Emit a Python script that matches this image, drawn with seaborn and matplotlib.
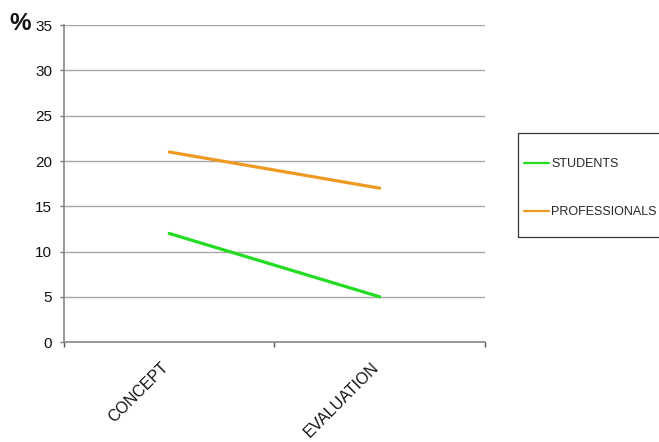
import matplotlib
matplotlib.use("Agg")
import matplotlib.pyplot as plt
from matplotlib.patches import Rectangle
import seaborn as sns
import pandas as pd

stages = ["CONCEPT", "EVALUATION"]
students = [12, 5]
professionals = [21, 17]
series_names = ["STUDENTS", "PROFESSIONALS"]
y_ticks = [0, 5, 10, 15, 20, 25, 30, 35]

green = "#22dd22"
orange = "#ee9a22"

df = pd.DataFrame({
    "stage": list(range(len(stages))) * 2,
    "value": students + professionals,
    "group": [series_names[0]] * len(stages) + [series_names[1]] * len(stages),
})

sns.set_theme(style="white")
plt.rcParams["font.family"] = ["Liberation Sans", "DejaVu Sans"]

fig = plt.figure(figsize=(6.59, 4.42), dpi=100)
ax = fig.add_axes([0.097, 0.226, 0.639, 0.717])

sns.lineplot(data=df, x="stage", y="value", hue="group",
             palette={series_names[0]: green, series_names[1]: orange},
             linewidth=2.3, ax=ax, legend=False)

ax.set_xlim(-0.5, len(stages) - 0.5)
ax.set_ylim(0, 35)
ax.set_yticks(y_ticks)
ax.set_yticklabels([str(v) for v in y_ticks], fontsize=11, color="#111111")
ax.yaxis.grid(True, color="#a8a8a8", linewidth=1)
ax.set_axisbelow(True)

ax.set_xticks(range(len(stages)))
ax.set_xticklabels(stages, rotation=45, ha="right", va="baseline",
                   rotation_mode="anchor", fontsize=11.5, color="#111111")
ax.set_xticks([i - 0.5 for i in range(len(stages) + 1)], minor=True)
ax.tick_params(axis="x", which="major", length=0, pad=19)
ax.tick_params(axis="x", which="minor", length=3.5, width=1, color="#555555", bottom=True)
ax.tick_params(axis="y", which="major", length=3, width=1, color="#777777", left=True, pad=5.5)

for side in ["top", "right"]:
    ax.spines[side].set_visible(False)
for side in ["left", "bottom"]:
    ax.spines[side].set_color("#888888")
    ax.spines[side].set_linewidth(1.2)

ax.set_xlabel("")
ax.set_ylabel("")

fig.text(0.014, 0.946, "%", fontsize=17.5, fontweight="bold", color="#111111",
         va="center", ha="left")

# legend box, running off the right edge of the figure
fig.patches.append(Rectangle((518 / 659, 1 - 237 / 442), 0.3, 104 / 442,
                             transform=fig.transFigure, facecolor="white",
                             edgecolor="#333333", linewidth=0.9, zorder=1))

handles = [plt.Line2D([], [], color=green, linewidth=1.6),
           plt.Line2D([], [], color=orange, linewidth=1.6)]
leg = fig.legend(handles, series_names, loc="center left",
                 bbox_to_anchor=(524 / 659, 1 - 188 / 442),
                 fontsize=9, frameon=False,
                 handlelength=2.0, handletextpad=0.2, labelspacing=2.9,
                 borderpad=0, borderaxespad=0)
leg.set_zorder(2)

fig.savefig("out.png", dpi=100, facecolor="white")
